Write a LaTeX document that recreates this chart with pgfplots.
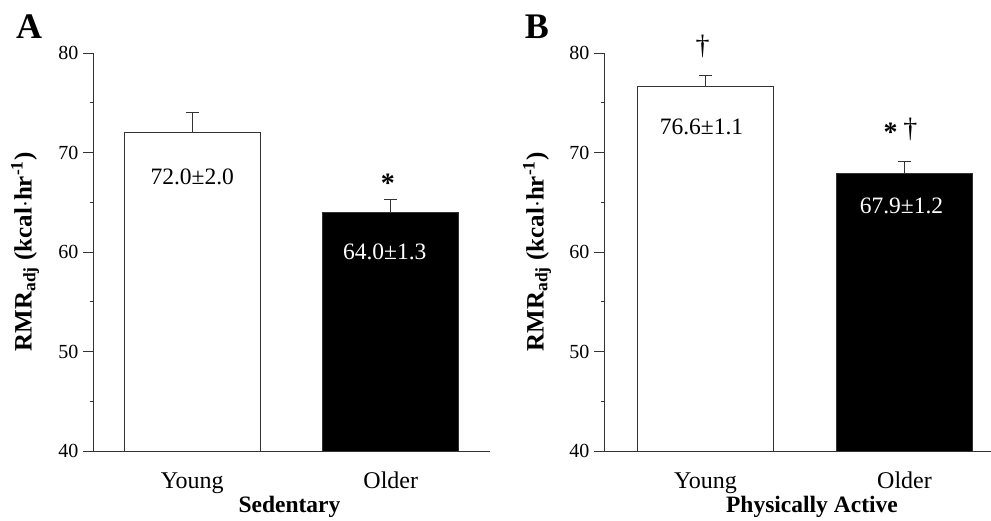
\documentclass[border=0pt]{standalone}
\usepackage{pgfplots}
\pgfplotsset{compat=1.18}
\usepackage{fontspec}
\setmainfont{Liberation Serif}

\pgfplotsset{
  rmrpanel/.style={
    scale only axis,
    height=398pt,
    ymin=40, ymax=80,
    axis x line=bottom, axis y line=left,
    axis line style={-, line width=0.9pt, black!80},
    ytick={40,50,60,70,80},
    minor ytick={45,55,65,75},
    tick align=outside,
    major tick length=10pt,
    minor tick length=3pt,
    every tick/.style={black!80, line width=0.9pt},
    xtick={1,2},
    xticklabels={Young,Older},
    x tick style={draw=none},
    /pgf/number format/assume math mode=true,
    yticklabel style={font=\fontsize{20}{22}\selectfont, xshift=-1pt},
    xticklabel style={font=\fontsize{24}{26}\selectfont, yshift=-17pt,
      text height=0.72em, text depth=0.22em},
    clip mode=individual,
  },
  rmrbar/.style={
    ybar, bar shift=0pt, bar width=136pt, line width=0.9pt, draw=black!80,
    /pgfplots/error bars/y dir=plus,
    /pgfplots/error bars/y explicit,
    /pgfplots/error bars/error bar style={line width=0.9pt, black!80},
    /pgfplots/error bars/error mark options={rotate=90, mark size=6.5pt, line width=0.9pt, black!80},
  },
}

\newcommand{\ylab}{\textbf{\fontsize{25}{27}\selectfont RMR\textsubscript{adj} (kcal$\cdot$hr\textsuperscript{-1})}}
\newcommand{\vlab}{\fontsize{23.5}{25}\selectfont}

\begin{document}
\begin{tikzpicture}
\useasboundingbox (-93pt,-70pt) rectangle (898pt,451pt);

% Panel A: sedentary
\begin{axis}[rmrpanel, width=397pt, xmin=0.5, xmax=2.5, at={(0pt,0pt)}]
  \addplot[rmrbar, fill=white] coordinates {(1,72.0) +- (0,2.0)};
  \addplot[rmrbar, fill=black] coordinates {(2,64.0) +- (0,1.3)};
  \node[font=\vlab] at (axis cs:1,67.6) {72.0±2.0};
  \node[font=\vlab, text=white] at (axis cs:1.97,60.0) {64.0±1.3};
  \node[font=\bfseries\fontsize{28}{30}\selectfont] at (axis cs:1.985,66.9) {*};
  \node[font=\bfseries\fontsize{23.5}{25}\selectfont] at (axis cs:1.49,40) [yshift=-56pt] {Sedentary};
  \node[rotate=90] at (rel axis cs:-0.171,0.5) {\ylab};
\end{axis}
\node[font=\bfseries\fontsize{36}{38}\selectfont] at (-64pt,424pt) {A};

% Panel B: physically active
\begin{axis}[rmrpanel, width=400pt, xmin=0.49, xmax=2.5, at={(511pt,0pt)}]
  \addplot[rmrbar, fill=white] coordinates {(1,76.6) +- (0,1.1)};
  \addplot[rmrbar, fill=black] coordinates {(2,67.9) +- (0,1.2)};
  \node[font=\vlab] at (axis cs:0.98,72.6) {76.6±1.1};
  \node[font=\vlab, text=white] at (axis cs:1.985,64.6) {67.9±1.2};
  \node[font=\fontsize{28}{30}\selectfont] at (axis cs:0.985,80.7) {†};
  \node[font=\bfseries\fontsize{28}{30}\selectfont] at (axis cs:1.93,72.0) {*};
  \node[font=\fontsize{28}{30}\selectfont] at (axis cs:2.03,72.3) {†};
  \node[font=\bfseries\fontsize{23.5}{25}\selectfont] at (axis cs:1.535,40) [yshift=-56pt] {Physically Active};
  \node[rotate=90] at (rel axis cs:-0.1675,0.5) {\ylab};
\end{axis}
\node[font=\bfseries\fontsize{36}{38}\selectfont] at (444pt,424pt) {B};
\end{tikzpicture}
\end{document}
